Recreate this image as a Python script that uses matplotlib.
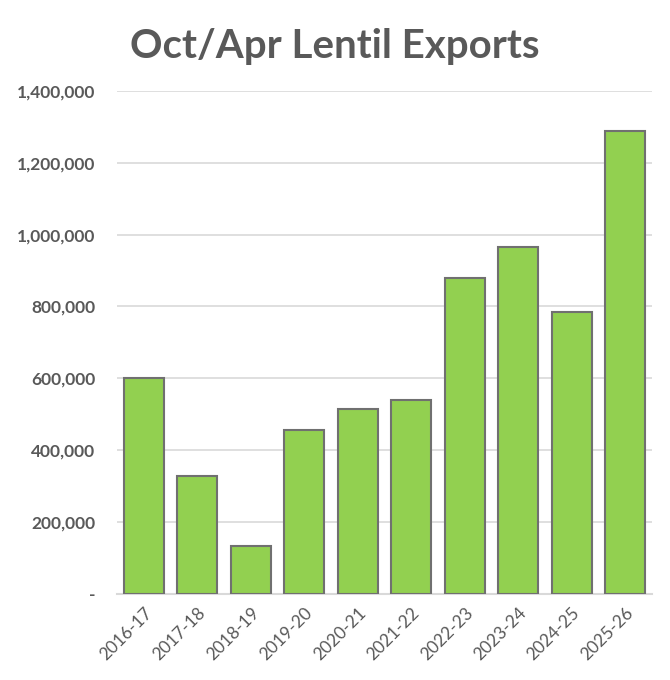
import matplotlib
matplotlib.use("Agg")
import matplotlib.pyplot as plt
from matplotlib.ticker import FuncFormatter

# Oct/Apr lentil exports by crop year
seasons = ["2016-17", "2017-18", "2018-19", "2019-20", "2020-21",
           "2021-22", "2022-23", "2023-24", "2024-25", "2025-26"]
exports = [601000, 328000, 134000, 456000, 515000,
           540000, 880000, 966000, 785000, 1289000]

plt.rcParams['font.family'] = ['Lato', 'DejaVu Sans']

fig = plt.figure(figsize=(6.7, 6.8), dpi=100)
ax = fig.add_axes([0.175, 0.127, 0.798, 0.739])

ax.bar(range(len(seasons)), exports, width=0.75, color="#92d050",
       edgecolor="#707070", linewidth=1.5, zorder=3)

#Axis formatting
ax.set_ylim(0, 1400000)
ax.set_yticks(range(0, 1400001, 200000))
ax.yaxis.set_major_formatter(FuncFormatter(lambda v, p: "-" if v == 0 else f"{int(v):,}"))
ax.set_xlim(-0.5, len(seasons) - 0.5)
ax.set_xticks(range(len(seasons)))
ax.set_xticklabels(seasons, rotation=45, ha="right", rotation_mode="anchor")

ax.grid(axis="y", color="#d9d9d9", linewidth=1.2, zorder=0)
for side in ["top", "right", "left"]:
    ax.spines[side].set_visible(False)
ax.spines["bottom"].set_color("#d9d9d9")
ax.spines["bottom"].set_linewidth(1.5)
ax.tick_params(axis="both", length=0, colors="#595959")
ax.tick_params(axis="y", pad=16, labelsize=12.5)
ax.tick_params(axis="x", pad=8, labelsize=12.5)
for lbl in ax.get_yticklabels():
    lbl.set_fontweight("bold")

fig.text(0.5, 0.932, "Oct/Apr Lentil Exports", ha="center", va="center",
         fontsize=29, fontweight="bold", color="#595959")

fig.savefig("out.png", dpi=100)
